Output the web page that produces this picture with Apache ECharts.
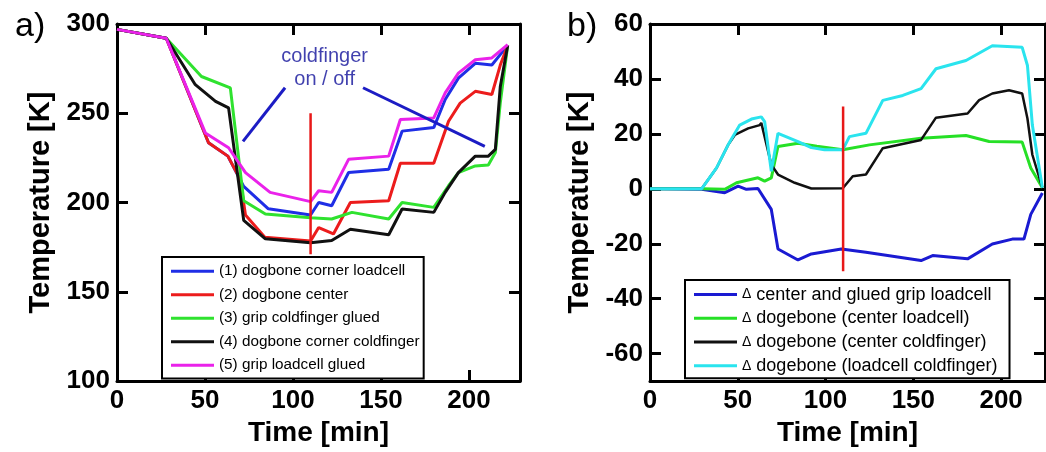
<!DOCTYPE html>
<html>
<head>
  <meta charset="utf-8" />
  <title>Temperature during coldfinger run</title>
  <script src="https://cdn.jsdelivr.net/npm/echarts@6/dist/echarts.min.js"></script>
  <style>
    html, body { margin: 0; padding: 0; background: #fff; }
  </style>
</head>
<body>
  <div id="chart" style="width: 1046px; height: 452px;"></div>
  <script type="text/javascript">

    // tick labels
    let timeTicks = [0, 50, 100, 150, 200];
    let tempTicks = [100, 150, 200, 250, 300];
    let deltaTicks = [-60, -40, -20, 0, 20, 40, 60];

    // a) absolute temperatures [time min, T K]
    let cornerLoadcell = [[0, 297], [28, 292], [52, 233.5], [63, 226], [72, 209], [86, 196.5], [110, 193],
      [114.6, 200], [122, 198.2], [131.6, 216.8], [154.4, 218.7], [162, 240], [180, 242], [186.5, 257.7],
      [194, 269.7], [203.6, 278], [213, 277], [222, 288]];
    let dogboneCenter = [[0, 297], [28, 292], [52, 233.5], [63, 226], [70, 213], [73, 193], [84, 180.6],
      [110, 178.5], [114.6, 186], [123, 182.4], [132.6, 200], [154.4, 201], [161, 222], [180, 222],
      [188.4, 245.5], [195, 255.7], [203.6, 262.3], [213, 260.5], [217.8, 277], [222, 288]];
    let gripColdfinger = [[0, 297], [28, 292], [48, 270.6], [64.4, 264.2], [72, 201], [84.3, 193.6],
      [110, 191.5], [122, 190.8], [133.5, 194.5], [154.4, 190.8], [162, 200], [180, 197.3], [188.4, 209.4],
      [194, 216.8], [203.6, 220.5], [211, 221], [215, 228], [217.8, 255.8], [222, 288]];
    let cornerColdfinger = [[0, 297], [28, 292], [44.5, 266], [56, 256.7], [63.4, 253], [72, 190],
      [84.3, 179.7], [110, 177.5], [122, 178.7], [132.6, 185], [154.4, 182], [162, 196.4], [180, 194.5],
      [186.5, 205.7], [194, 216.8], [203.6, 226], [211, 226], [215, 229.8], [217.8, 265], [222, 288]];
    let gripLoadcell = [[0, 297], [28, 292], [50.2, 239], [63.4, 230.7], [73, 216.8], [87, 205.7],
      [110, 200.5], [114.6, 206.6], [122, 205.7], [131.6, 224.2], [154.4, 226], [161, 246.5], [180, 247.4],
      [186.5, 261.4], [194, 272.5], [203.6, 280], [213, 281], [222, 288.5]];

    // b) temperature differences [time min, dT K]
    let deltaCenterGrip = [[0, 0], [29.4, -0.2], [42.6, -1.4], [50.2, 1], [54.9, -0.2], [61.5, 0.1],
      [69.1, -7.5], [72.9, -21.9], [84.3, -25.9], [91.9, -23.7], [109, -21.9], [123, -23.1], [154.4, -26.1],
      [161, -24.3], [180.9, -25.5], [195, -20.1], [206.4, -18.3], [213, -18.3], [216.9, -9.3], [223.5, -1.5]];
    let deltaCenterLoadcell = [[0, 0], [29.4, 0], [42.6, -0.2], [49.3, 2.2], [61.5, 4], [65.3, 2.8],
      [69.1, 4], [72.9, 15.4], [84.3, 16.6], [95, 15.5], [109.8, 14.2], [125, 16], [154.4, 18.4],
      [180, 19.4], [193.2, 17.2], [212, 17], [216.9, 7.6], [223.5, 0.4]];
    let deltaCenterColdfinger = [[0, 0], [29.4, 0], [37.9, 7.6], [44.5, 16], [48.3, 19.6], [55.9, 22],
      [62.5, 23.2], [63.4, 24], [69.1, 8.8], [72.9, 5.2], [82.4, 2.2], [91.9, 0.1], [109.8, 0.2],
      [115.5, 4.6], [123, 5.2], [132.6, 14.8], [154.4, 17.8], [162.9, 25.9], [180.9, 27.4], [187.5, 32.3],
      [195, 34.7], [204.5, 35.9], [212, 34.7], [215, 25.6], [217.8, 12.4], [223.5, 0.4]];
    let deltaLoadcellColdfinger = [[0, 0], [29.4, 0], [37.9, 7.6], [44.5, 16], [51.1, 23.2], [57.8, 25.4],
      [63.4, 26.2], [65.3, 24.5], [69.1, 6.4], [72.9, 20.2], [84.3, 17.2], [91.9, 15], [99.4, 14.2],
      [109.8, 14.2], [113.6, 19], [123, 20.2], [132.6, 32.2], [144, 34], [154.4, 36.5], [162.9, 43.7],
      [180, 46.7], [195, 52.1], [212, 51.5], [215, 44.9], [217.8, 23.2], [223.5, 0.4]];

    // red markers and annotation
    let switchA = [[110, 250], [110, 171]];
    let switchB = [[110, 30], [110, -30]];
    let pointerLeft = [[95.5, 264.3], [71.6, 234.3]];
    let pointerRight = [[139.8, 264.3], [209, 231.5]];
    let noteText = [[118, 281.6, 'coldfinger'], [118, 268.8, 'on / off']];

    let namesA = ['(1) dogbone corner loadcell', '(2) dogbone center', '(3) grip coldfinger glued',
      '(4) dogbone corner coldfinger', '(5) grip loadcell glued'];
    let namesB = ['\u0394 center and glued grip loadcell', '\u0394 dogebone (center loadcell)',
      '\u0394 dogebone (center coldfinger)', '\u0394 dogebone (loadcell coldfinger)'];

    var font = 'Liberation Sans, Arial, sans-serif';
    var chart = echarts.init(document.getElementById('chart'));

    function frameAxis(gridIndex, position, min, max, ticks, showLabel, name, nameGap, nameSize) {
      return {
        type: 'value',
        gridIndex: gridIndex,
        position: position,
        min: min,
        max: max,
        name: name || '',
        nameLocation: 'middle',
        nameGap: nameGap || 0,
        nameTextStyle: { fontFamily: font, fontSize: nameSize || 28, fontWeight: 'bold', color: '#000' },
        axisLine: { show: true, onZero: false, lineStyle: { color: '#000', width: 3 } },
        axisTick: { show: true, inside: true, length: 11, customValues: ticks,
          lineStyle: { color: '#000', width: 3 } },
        axisLabel: { show: showLabel, customValues: ticks, margin: 7,
          fontFamily: font, fontSize: 26, fontWeight: 'bold', color: '#000' },
        splitLine: { show: false }
      };
    }

    function curve(name, data, color, xi, yi, width) {
      return {
        name: name, type: 'line', data: data, xAxisIndex: xi, yAxisIndex: yi,
        symbol: 'none', showSymbol: false, color: color,
        lineStyle: { width: width || 3, color: color }
      };
    }

    var legendBase = {
      orient: 'vertical',
      icon: 'rect',
      itemWidth: 43,
      itemHeight: 3,
      backgroundColor: '#fff',
      borderColor: '#000',
      borderWidth: 2,
      borderRadius: 0,
      selectedMode: false
    };

    var option = {
      animation: false,
      backgroundColor: '#fff',
      title: [
        { text: 'a)', left: 10, top: 5, textStyle: { fontFamily: font, fontSize: 34, fontWeight: 'normal', color: '#000' } },
        { text: 'b)', left: 562, top: 5, textStyle: { fontFamily: font, fontSize: 34, fontWeight: 'normal', color: '#000' } }
      ],
      grid: [
        { left: 117, top: 24, width: 403, height: 359 },
        { left: 650, top: 24, width: 395, height: 359 }
      ],
      xAxis: [
        frameAxis(0, 'bottom', 0, 229, timeTicks, true, 'Time [min]', 33),
        frameAxis(0, 'top', 0, 229, timeTicks, false),
        frameAxis(1, 'bottom', 0, 225, timeTicks, true, 'Time [min]', 33),
        frameAxis(1, 'top', 0, 225, timeTicks, false)
      ],
      yAxis: [
        frameAxis(0, 'left', 100, 300, tempTicks, true, 'Temperature [K]', 62, 29),
        frameAxis(0, 'right', 100, 300, tempTicks, false),
        frameAxis(1, 'left', -70, 60, deltaTicks, true, 'Temperature [K]', 56, 29),
        frameAxis(1, 'right', -70, 60, deltaTicks, false)
      ],
      legend: [
        Object.assign({}, legendBase, {
          data: namesA, left: 162, top: 257, padding: [5, 4, 4, 9], itemGap: 5,
          textStyle: { fontFamily: font, fontSize: 15.3, color: '#000', lineHeight: 18.5 }
        }),
        Object.assign({}, legendBase, {
          data: namesB, left: 685, top: 280, padding: [5, 12, 3, 9], itemGap: 4.5,
          formatter: function (name) { return '{d|\u0394}' + name.slice(1); },
          textStyle: { fontFamily: font, fontSize: 18, color: '#000', lineHeight: 19.2,
            rich: { d: { fontFamily: font, fontSize: 14, color: '#000' } } }
        })
      ],
      series: [
        curve(namesA[0], cornerLoadcell, '#1f2ee6', 0, 0),
        curve(namesA[1], dogboneCenter, '#ec1c1c', 0, 0),
        curve(namesA[2], gripColdfinger, '#2fe22f', 0, 0),
        curve(namesA[3], cornerColdfinger, '#111111', 0, 0),
        curve(namesA[4], gripLoadcell, '#ea22ea', 0, 0),
        curve('switchA', switchA, '#e81818', 0, 0, 2.5),
        curve('pointerLeft', pointerLeft, '#1c1cc4', 0, 0, 3),
        curve('pointerRight', pointerRight, '#1c1cc4', 0, 0, 3),
        {
          name: 'note', type: 'scatter', xAxisIndex: 0, yAxisIndex: 0, data: noteText,
          symbolSize: 0,
          label: { show: true, position: 'inside', formatter: function (p) { return p.data[2]; },
            fontFamily: font, fontSize: 20, color: '#10109a' }
        },
        curve(namesB[0], deltaCenterGrip, '#1a1ad2', 2, 2),
        curve(namesB[1], deltaCenterLoadcell, '#26e026', 2, 2),
        curve(namesB[2], deltaCenterColdfinger, '#111111', 2, 2, 2.5),
        curve(namesB[3], deltaLoadcellColdfinger, '#2ae4ee', 2, 2),
        curve('switchB', switchB, '#e81818', 2, 2, 2.5)
      ]
    };

    chart.setOption(option);
  </script>
</body>
</html>
